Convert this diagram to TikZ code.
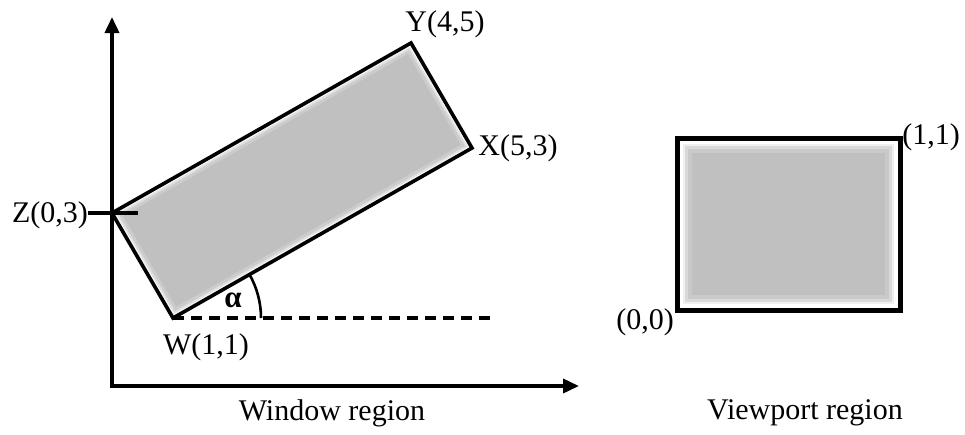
\documentclass[tikz,border=0pt]{standalone}
\usepackage{fontspec}
\setmainfont{Liberation Serif}
\usetikzlibrary{arrows.meta}
\definecolor{fillgray}{HTML}{C0C0C0}
\begin{document}
\begin{tikzpicture}[x=1pt,y=-1pt,
  lbl/.style={font=\fontsize{30}{30}\selectfont, inner sep=0pt},
  axis/.style={line width=3.6pt, {Triangle[length=16pt,width=14pt]}-{Triangle[length=16pt,width=14pt]}},
  frame/.style={line width=3.6pt, line join=miter},
  vframe/.style={line width=5pt, line join=miter},
  dashline/.style={line width=3.8pt, dash pattern=on 11pt off 7pt},
  glow/.style={draw=white, line join=miter}]
\useasboundingbox (0,0) rectangle (965,434);
% axes
\coordinate (O) at (112,386);
\coordinate (ytip) at (112,17);
\coordinate (xtip) at (579,386);
% window corners
\coordinate (W) at (173,318);
\coordinate (Z) at (112,213);
\coordinate (Y) at (411,43);
\coordinate (X) at (472,148);
% window rectangle
\fill[fillgray] (W) -- (X) -- (Y) -- (Z) -- cycle;
\begin{scope}
  \clip (W) -- (X) -- (Y) -- (Z) -- cycle;
  \draw[glow, line width=16pt, opacity=.2] (W) -- (X) -- (Y) -- (Z) -- cycle;
  \draw[glow, line width=10pt, opacity=.4] (W) -- (X) -- (Y) -- (Z) -- cycle;
  \draw[glow, line width=6pt, opacity=.8] (W) -- (X) -- (Y) -- (Z) -- cycle;
\end{scope}
\draw[axis] (ytip) -- (O) -- (xtip);
\draw[frame] (W) -- (X) -- (Y) -- (Z) -- cycle;
% tick at Z
\coordinate (tickL) at (88,213);
\coordinate (tickR) at (138,213);
\draw[line width=3.6pt] (tickL) -- (tickR);
% dashed horizontal and angle
\coordinate (dashEnd) at (495,318);
\draw[dashline] (W) -- (dashEnd);
\draw[line width=2.6pt] (W) ++(88,0) arc[start angle=0, end angle=-29.6, radius=88];
\node[font=\fontsize{31}{31}\selectfont\bfseries, inner sep=0pt] (alpha) at (233,300) {α};
% labels
\node[lbl] (lY) at (445,24) {Y(4,5)};
\node[lbl] (lX) at (518,148) {X(5,3)};
\node[lbl] (lZ) at (50,215) {Z(0,3)};
\node[lbl] (lW) at (206,347) {W(1,1)};
\node[lbl] (lwin) at (332,413) {Window region};
% viewport
\coordinate (VA) at (677,310);
\coordinate (VB) at (900,138);
\fill[fillgray] (VA) rectangle (VB);
\begin{scope}
  \clip (VA) rectangle (VB);
  \draw[glow, line width=30pt, opacity=.15] (VA) rectangle (VB);
  \draw[glow, line width=22pt, opacity=.3] (VA) rectangle (VB);
  \draw[glow, line width=16pt, opacity=.6] (VA) rectangle (VB);
  \draw[glow, line width=12pt] (VA) rectangle (VB);
\end{scope}
\draw[vframe] (VA) rectangle (VB);
\node[lbl] (l11) at (931,137) {(1,1)};
\node[lbl] (l00) at (645,322) {(0,0)};
\node[lbl] (lvp) at (805,413) {Viewport region};
\end{tikzpicture}
\end{document}
